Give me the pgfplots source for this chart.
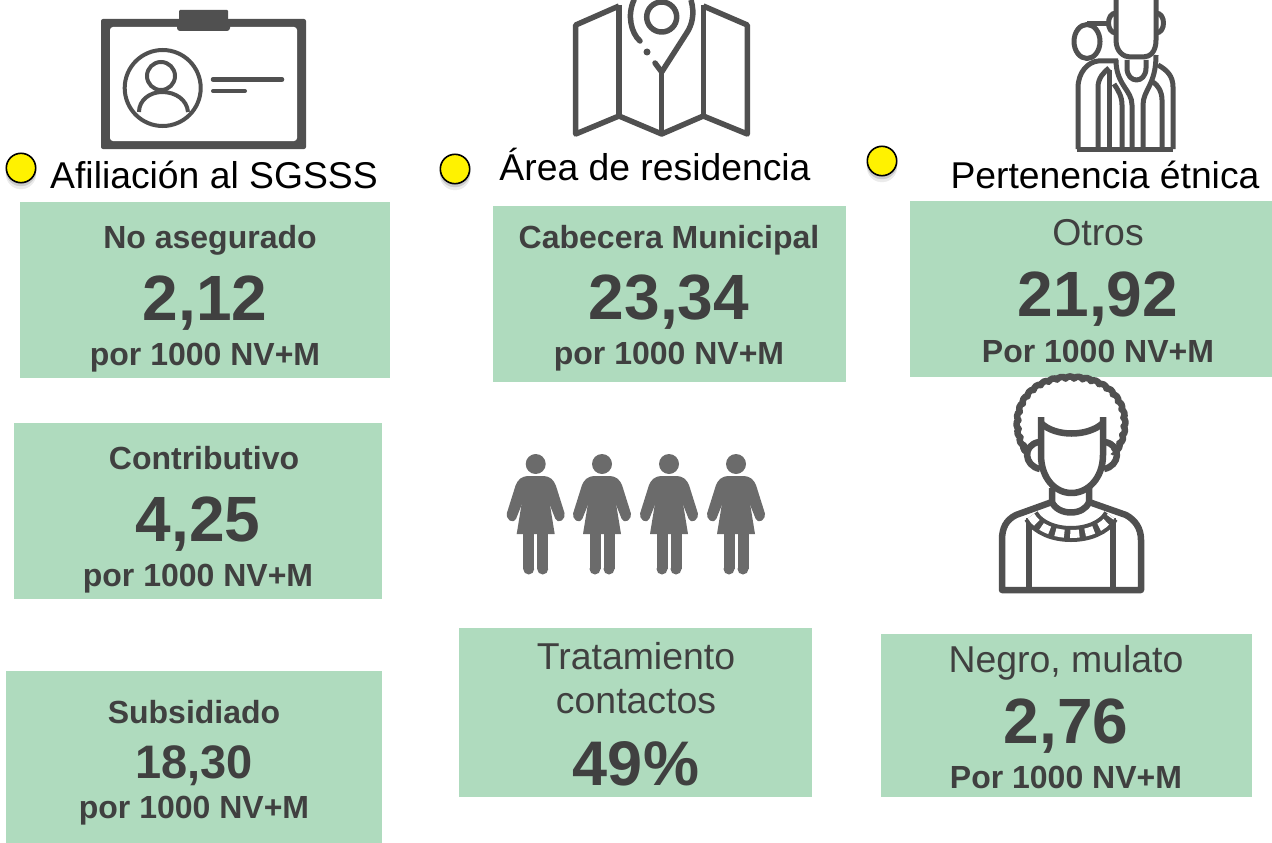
\documentclass[border=0pt]{standalone}
\usepackage{pgfplots}
\pgfplotsset{compat=1.18}
\usepackage{fontspec}
\setmainfont{Liberation Sans}
\usetikzlibrary{decorations.pathmorphing}
\definecolor{boxgreen}{HTML}{AFDBBE}
\definecolor{txt}{HTML}{404040}
\definecolor{icon}{HTML}{505050}
\definecolor{womanc}{HTML}{6B6B6B}

% box: x0,y0,x1,y1
\newcommand{\greenbox}[4]{\addplot[fill=boxgreen,draw=none] coordinates {(#1,#2)(#3,#2)(#3,#4)(#1,#4)};}
% text: x, baseline y, size, text
\newcommand{\lb}[4]{\node[anchor=base,inner sep=0pt,text=txt,font=\fontsize{#3}{#3}\selectfont\bfseries] at (axis cs:#1,#2) {#4};}
\newcommand{\lr}[4]{\node[anchor=base,inner sep=0pt,text=txt,font=\fontsize{#3}{#3}\selectfont] at (axis cs:#1,#2) {#4};}
\newcommand{\ttl}[3]{\node[anchor=base,inner sep=0pt,text=black,font=\fontsize{37.3}{37.3}\selectfont] at (axis cs:#1,#2) {#3};}
% one standing woman, #1 = x of the head
\newcommand{\woman}[1]{
  \fill[womanc] (axis cs:#1,464) circle[radius=10];
  \fill[womanc,draw=womanc,line width=2pt,line join=round,rounded corners=4pt]
    (axis cs:#1-12,477) -- (axis cs:#1+12,477) -- (axis cs:#1+18,482) -- (axis cs:#1+29,517) -- (axis cs:#1+22,522)
    -- (axis cs:#1+12,497) -- (axis cs:#1+14,525) -- (axis cs:#1-14,525)
    -- (axis cs:#1-12,497) -- (axis cs:#1-22,522) -- (axis cs:#1-29,517) -- (axis cs:#1-18,482) -- cycle;
  \fill[womanc] (axis cs:#1-12.5,494) -- (axis cs:#1+12.5,494) -- (axis cs:#1+19,534) -- (axis cs:#1-19,534) -- cycle;
  \draw[womanc,line width=11pt] (axis cs:#1-7,530) -- (axis cs:#1-7,569);
  \draw[womanc,line width=11pt] (axis cs:#1+7,530) -- (axis cs:#1+7,569);
  \fill[womanc] (axis cs:#1-7,569) circle[radius=5.5];
  \fill[womanc] (axis cs:#1+7,569) circle[radius=5.5];
}

\begin{document}
\begin{tikzpicture}
\useasboundingbox (0,0) rectangle (1272pt,843pt);
\begin{axis}[
    scale only axis,
    width=1272pt, height=843pt,
    xmin=0, xmax=1272, ymin=0, ymax=843,
    y dir=reverse,
    hide axis,
]
% green boxes
\greenbox{20}{202}{390}{378}
\greenbox{14}{423}{382}{599}
\greenbox{6}{671}{382}{843}
\greenbox{493}{206}{846}{382}
\greenbox{459}{628}{812}{797}
\greenbox{910}{201}{1272}{377}
\greenbox{881}{634}{1252}{797}

% yellow dots with their shadow
\addplot[only marks,mark=*,mark size=15pt,mark options={draw=black!8,fill=black!8}] coordinates {(21,174)(455,175)(882,167)};
\addplot[only marks,mark=*,mark size=15pt,mark options={draw=black!20,fill=black!20}] coordinates {(21,171)(455,172)(882,164)};
\addplot[only marks,mark=*,mark size=14.7pt,mark options={draw=black,fill=yellow,line width=1.6pt}] coordinates {(21,168)(455,169)(882,161)};

% id card
\fill[icon,rounded corners=2pt] (axis cs:101,19) rectangle (axis cs:306,149);
\fill[white,rounded corners=3pt] (axis cs:110,27) rectangle (axis cs:297,141);
\fill[icon,rounded corners=3pt] (axis cs:177,19) rectangle (axis cs:230,31);
\fill[icon,rounded corners=1pt] (axis cs:179,10) rectangle (axis cs:228,24);
\begin{scope}[icon,line width=4pt]
\draw (axis cs:162.7,88) circle[radius=38];
\draw (axis cs:161,76) circle[radius=14];
\draw (axis cs:139,112) .. controls (axis cs:139,100) and (axis cs:150,92) .. (axis cs:162,92)
   .. controls (axis cs:176,92) and (axis cs:187,100) .. (axis cs:188,112);
\draw[line cap=round,line width=4.5pt] (axis cs:213,79.5) -- (axis cs:282,79.5);
\draw[line cap=round,line width=4pt] (axis cs:213,91) -- (axis cs:245,91);
\end{scope}

% map with pin
\begin{scope}[icon,line width=5.5pt,line join=round]
\draw (axis cs:619,6) -- (axis cs:575.7,25) -- (axis cs:575.7,134) -- (axis cs:619,116) -- (axis cs:661.7,134)
  -- (axis cs:703.3,116) -- (axis cs:747.3,134) -- (axis cs:747.3,25) -- (axis cs:703.3,6);
\draw (axis cs:619,5) -- (axis cs:619,116);
\draw (axis cs:703.3,5) -- (axis cs:703.3,116);
\draw (axis cs:661.7,72) -- (axis cs:661.7,134);
\draw (axis cs:661.7,17) circle[radius=15];
\draw[line cap=round] (axis cs:640,41) .. controls (axis cs:631,33) and (axis cs:627,15) .. (axis cs:634,0);
\draw (axis cs:691,0) .. controls (axis cs:695,14) and (axis cs:692,25) .. (axis cs:686.7,33) -- (axis cs:661.7,72);
\draw[line cap=round] (axis cs:655,63) -- (axis cs:661.7,72);
\fill (axis cs:647,52) circle[radius=3.5];
\end{scope}

% two persons
\begin{scope}[icon,line width=5pt,line join=round]
\draw (axis cs:1077,149) -- (axis cs:1173,149);
\draw (axis cs:1078,149) -- (axis cs:1078,88) .. controls (axis cs:1078,72) and (axis cs:1088,62) .. (axis cs:1098,61) -- (axis cs:1118,61);
\draw (axis cs:1087,41.5) circle[x radius=13,y radius=17];
\draw (axis cs:1087,24) -- (axis cs:1108,24);
\draw (axis cs:1116,0) -- (axis cs:1116,40) .. controls (axis cs:1116,52) and (axis cs:1124,57) .. (axis cs:1130,57)
   -- (axis cs:1143,57) .. controls (axis cs:1150,57) and (axis cs:1156,52) .. (axis cs:1156,40) -- (axis cs:1156,0);
\draw (axis cs:1116,13) .. controls (axis cs:1106,13) and (axis cs:1106,33) .. (axis cs:1116,33);
\draw (axis cs:1156,13) .. controls (axis cs:1166,13) and (axis cs:1166,33) .. (axis cs:1156,33);
\draw (axis cs:1098,149) -- (axis cs:1098,87) .. controls (axis cs:1098,78) and (axis cs:1104,72) .. (axis cs:1109,68);
\draw (axis cs:1109,149) -- (axis cs:1109,70);
\draw (axis cs:1122,149) -- (axis cs:1122,105) .. controls (axis cs:1122,96) and (axis cs:1118,90) .. (axis cs:1114,84);
\draw (axis cs:1132,149) -- (axis cs:1132,105) .. controls (axis cs:1132,90) and (axis cs:1116,85) .. (axis cs:1116,60);
\draw (axis cs:1143,149) -- (axis cs:1143,105) .. controls (axis cs:1143,90) and (axis cs:1156,85) .. (axis cs:1156,55);
\draw (axis cs:1162,149) -- (axis cs:1162,100) .. controls (axis cs:1162,92) and (axis cs:1158,85) .. (axis cs:1153,82);
\draw (axis cs:1173,149) -- (axis cs:1173,87) .. controls (axis cs:1173,76) and (axis cs:1167,70) .. (axis cs:1158,65);
\draw (axis cs:1127,60) -- (axis cs:1127,68) .. controls (axis cs:1127,84) and (axis cs:1146,84) .. (axis cs:1146,68) -- (axis cs:1146,60);
\end{scope}

% four women
\woman{535.7}
\woman{602}
\woman{669}
\woman{736}

% person with curly hair
\begin{scope}[icon,line width=6.5pt,line join=round]
\draw[decorate,decoration={bumps,segment length=17pt,amplitude=2.5pt}]
   (axis cs:1029,452) .. controls (axis cs:1008,425) and (axis cs:1020,379) .. (axis cs:1071,379)
   .. controls (axis cs:1122,379) and (axis cs:1134,425) .. (axis cs:1113,452);
\draw (axis cs:1041,417) -- (axis cs:1041,455) .. controls (axis cs:1041,478) and (axis cs:1055,493) .. (axis cs:1071.5,493)
   .. controls (axis cs:1088,493) and (axis cs:1103,478) .. (axis cs:1103,455) -- (axis cs:1103,417);
\draw (axis cs:1041,423) .. controls (axis cs:1055,437) and (axis cs:1088,437) .. (axis cs:1103,423);
\draw (axis cs:1039,442) .. controls (axis cs:1022,445) and (axis cs:1024,466) .. (axis cs:1040,469);
\draw (axis cs:1105,442) .. controls (axis cs:1122,445) and (axis cs:1120,466) .. (axis cs:1104,469);
\draw (axis cs:1052,488) -- (axis cs:1052,502) .. controls (axis cs:1058,516) and (axis cs:1084,516) .. (axis cs:1089,502) -- (axis cs:1089,488);
\draw (axis cs:1052,502) -- (axis cs:1016,515) .. controls (axis cs:1006,520) and (axis cs:1002,528) .. (axis cs:1002,540)
   -- (axis cs:1002,590) -- (axis cs:1141,590) -- (axis cs:1141,540) .. controls (axis cs:1141,528) and (axis cs:1135,520) .. (axis cs:1126,515) -- (axis cs:1089,502);
\draw (axis cs:1029,518) -- (axis cs:1029,590);
\draw (axis cs:1113,518) -- (axis cs:1113,590);
\draw[line width=16pt] (axis cs:1031,516) .. controls (axis cs:1045,540) and (axis cs:1097,540) .. (axis cs:1111,516);
\draw[white,line width=8pt,dash pattern=on 9pt off 6pt] (axis cs:1031,516) .. controls (axis cs:1045,540) and (axis cs:1097,540) .. (axis cs:1111,516);
\end{scope}

% headings
\ttl{214}{188}{Afiliación al SGSSS}
\ttl{655}{180}{Área de residencia}
\ttl{1105}{188}{Pertenencia étnica}

% afiliacion
\lb{210}{248}{32}{No asegurado}
\lb{205}{320}{64}{2,12}
\lb{205}{365}{32}{por 1000 NV+M}
\lb{204}{469}{32}{Contributivo}
\lb{198}{541}{64}{4,25}
\lb{198}{586}{32}{por 1000 NV+M}
\lb{194}{723}{32}{Subsidiado}
\lb{194}{778}{47}{18,30}
\lb{194}{818}{32}{por 1000 NV+M}
% area
\lb{669}{248}{32}{Cabecera Municipal}
\lb{669}{319}{64}{23,34}
\lb{669}{364}{32}{por 1000 NV+M}
\lr{636}{669}{37.4}{Tratamiento}
\lr{636}{713}{37.4}{contactos}
\lb{636}{785}{63}{49\%}
% etnia
\lr{1098}{245}{37.4}{Otros}
\lb{1098}{316}{64}{21,92}
\lb{1098}{362}{32}{Por 1000 NV+M}
\lr{1066}{672}{37.4}{Negro, mulato}
\lb{1066}{743}{64}{2,76}
\lb{1066}{788}{32}{Por 1000 NV+M}
\end{axis}
\end{tikzpicture}
\end{document}
